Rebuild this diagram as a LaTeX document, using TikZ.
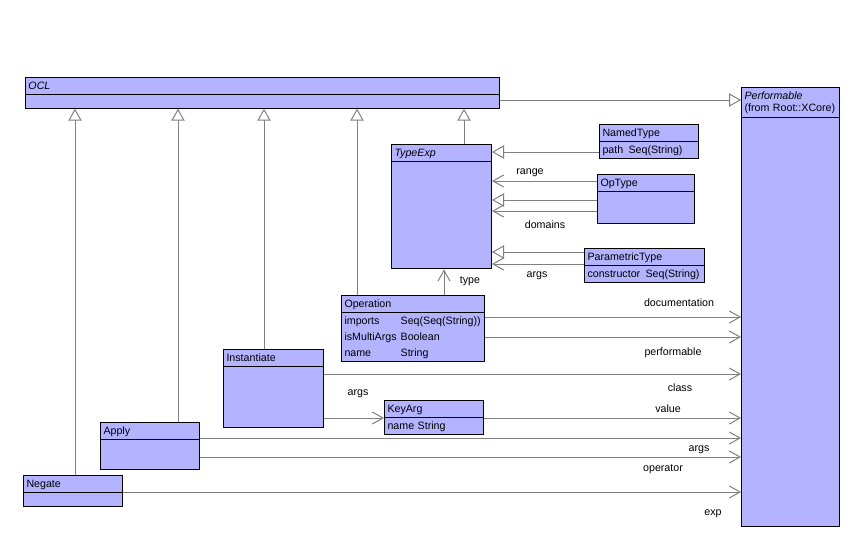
\documentclass[tikz,border=0pt]{standalone}
\usepackage{fontspec}
\setmainfont{Liberation Sans}
\usetikzlibrary{shapes.multipart}
\usetikzlibrary{arrows.meta}

\definecolor{classfill}{RGB}{179,179,255}
\definecolor{linkgray}{RGB}{128,128,128}

\tikzset{
  umlclass/.style={draw=black, fill=classfill, rectangle split, rectangle split parts=2,
    anchor=north west, inner xsep=2.25pt, inner ysep=0pt, align=left,
    font=\fontsize{8}{12}\selectfont, line width=0.75pt},
  gen/.style={draw=linkgray, line width=0.75pt, {Triangle[open,length=9pt,width=10pt]}-},
  assoc/.style={draw=linkgray, line width=0.75pt, -{Straight Barb[length=8pt,width=9pt]}},
  rolelbl/.style={font=\fontsize{8}{12}\selectfont, inner sep=0pt}
}

\begin{document}
\begin{tikzpicture}[x=0.75pt,y=-0.75pt]
\useasboundingbox[fill=white] (0,0) rectangle (861,547);

% classes
\node[umlclass, text width=351pt] (OCL) at (25,77)
  {\strut\textit{OCL} \nodepart{second}\rule{0pt}{9.5pt}};
\node[umlclass, text width=69pt] (Performable) at (741,87)
  {\strut\textit{Performable}\\[-2.5pt]\strut(from Root::XCore) \nodepart{second}\rule{0pt}{306.5pt}};
\node[umlclass, text width=70.5pt] (TypeExp) at (391,144)
  {\strut\textit{TypeExp} \nodepart{second}\rule{0pt}{79.8pt}};
\node[umlclass, text width=69.75pt] (NamedType) at (599,124)
  {\strut NamedType \nodepart{second}\strut path\hspace{4pt}Seq(String)};
\node[umlclass, text width=68.25pt] (OpType) at (597,174)
  {\strut OpType \nodepart{second}\rule{0pt}{23.5pt}};
\node[umlclass, text width=85.5pt] (ParametricType) at (584,248)
  {\strut ParametricType \nodepart{second}\strut constructor\hspace{4pt}Seq(String)};
\node[umlclass, text width=102.75pt] (Operation) at (341,295)
  {\strut Operation \nodepart{second}\begin{tabular}{@{}l@{\hspace{3pt}}l@{}}
      imports & Seq(Seq(String))\\
      isMultiArgs & Boolean\\
      name & String\end{tabular}};
\node[umlclass, text width=69.75pt] (KeyArg) at (384,400)
  {\strut KeyArg \nodepart{second}\strut name String};
\node[umlclass, text width=70.5pt] (Instantiate) at (223,349)
  {\strut Instantiate \nodepart{second}\rule{0pt}{45.3pt}};
\node[umlclass, text width=69.75pt] (Apply) at (100,422)
  {\strut Apply \nodepart{second}\rule{0pt}{21.5pt}};
\node[umlclass, text width=69.75pt] (Negate) at (23,475)
  {\strut Negate \nodepart{second}\rule{0pt}{9.5pt}};

% generalisations
\draw[gen] (Performable.west |- 0,100) -- (OCL.east |- 0,100);
\draw[gen] (75,0 |- OCL.south) -- (75,0 |- Negate.north);
\draw[gen] (178,0 |- OCL.south) -- (178,0 |- Apply.north);
\draw[gen] (264,0 |- OCL.south) -- (264,0 |- Instantiate.north);
\draw[gen] (357,0 |- OCL.south) -- (357,0 |- Operation.north);
\draw[gen] (464,0 |- OCL.south) -- (464,0 |- TypeExp.north);
\draw[gen] (TypeExp.east |- 0,152) -- (NamedType.west |- 0,152);
\draw[gen] (TypeExp.east |- 0,200) -- (OpType.west |- 0,200);
\draw[gen] (TypeExp.east |- 0,252) -- (ParametricType.west |- 0,252);

% associations
\draw[assoc] (OpType.west |- 0,181) -- (TypeExp.east |- 0,181);
\draw[assoc] (OpType.west |- 0,211) -- (TypeExp.east |- 0,211);
\draw[assoc] (ParametricType.west |- 0,264) -- (TypeExp.east |- 0,264);
\draw[assoc] (444,0 |- Operation.north) -- (444,0 |- TypeExp.south);
\draw[assoc] (Operation.east |- 0,317) -- (Performable.west |- 0,317);
\draw[assoc] (Operation.east |- 0,337) -- (Performable.west |- 0,337);
\draw[assoc] (Instantiate.east |- 0,374) -- (Performable.west |- 0,374);
\draw[assoc] (Instantiate.east |- 0,418) -- (KeyArg.west |- 0,418);
\draw[assoc] (KeyArg.east |- 0,418) -- (Performable.west |- 0,418);
\draw[assoc] (Apply.east |- 0,438) -- (Performable.west |- 0,438);
\draw[assoc] (Apply.east |- 0,457) -- (Performable.west |- 0,457);
\draw[assoc] (Negate.east |- 0,492) -- (Performable.west |- 0,492);

% role names
\node[rolelbl] (lRange) at (530,173) {range};
\node[rolelbl] (lDomains) at (545,225) {domains};
\node[rolelbl] (lArgsPT) at (537,276) {args};
\node[rolelbl] (lType) at (470,281) {type};
\node[rolelbl] (lDoc) at (679,303) {documentation};
\node[rolelbl] (lPerf) at (673,353) {performable};
\node[rolelbl] (lClass) at (680,388) {class};
\node[rolelbl] (lArgsIn) at (358,394) {args};
\node[rolelbl] (lValue) at (668,409) {value};
\node[rolelbl] (lArgsAp) at (699,450) {args};
\node[rolelbl] (lOperator) at (663,469) {operator};
\node[rolelbl] (lExp) at (713,514) {exp};

\end{tikzpicture}
\end{document}
